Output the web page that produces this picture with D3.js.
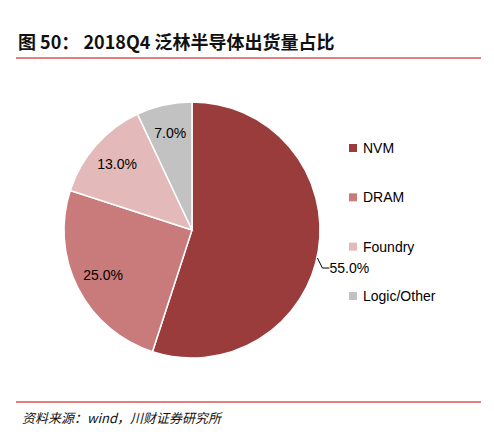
<!DOCTYPE html><html><head><meta charset="utf-8"><script src="https://cdn.jsdelivr.net/npm/d3@7"></script>
<style>body{margin:0;background:#fff}</style></head><body><svg id="c" width="494" height="437"></svg><script>
const categories=["NVM","DRAM","Foundry","Logic/Other"];
const values=[55.0,25.0,13.0,7.0];
const colors=["#9a3c3c","#c97b7b","#e4b9b9","#c2c2c2"];
const svg=d3.select("#c");
svg.append("text").attr("x",18).attr("y",49).attr("font-family","Noto Sans CJK SC").attr("font-weight","bold").attr("font-size",18).attr("fill","#111").text("图 50：  2018Q4 泛林半导体出货量占比");
svg.append("line").attr("x1",16).attr("x2",481).attr("y1",58).attr("y2",58).attr("stroke","#c00000").attr("stroke-width",1);
svg.append("line").attr("x1",16).attr("x2",481).attr("y1",402).attr("y2",402).attr("stroke","#c00000").attr("stroke-width",1);
svg.append("text").attr("x",22).attr("y",423).attr("font-family","Noto Sans CJK SC").attr("font-style","italic").attr("font-size",13).attr("fill","#111").text("资料来源：wind，川财证券研究所");
const cx=192,cy=230,r=128;
const g=svg.append("g").attr("transform",`translate(${cx},${cy})`);
const pie=d3.pie().sort(null).value(d=>d)(values);
const arc=d3.arc().innerRadius(0).outerRadius(r);
g.selectAll("path").data(pie).join("path").attr("d",arc).attr("fill",(d,i)=>colors[i]).attr("stroke","#fff").attr("stroke-width",1.5);
const lab=d3.arc().innerRadius(r*0.78).outerRadius(r*0.78);
pie.forEach((d,i)=>{
  if(i===0){
    const a=(d.startAngle+d.endAngle)/2;
    const p=[Math.sin(a)*r,-Math.cos(a)*r];
    g.append("polyline").attr("points",`${p[0]-1},${p[1]+8} ${p[0]+4},${p[1]+18} ${p[0]+11},${p[1]+18}`).attr("fill","none").attr("stroke","#000");
    g.append("text").attr("x",p[0]+11).attr("y",p[1]+23).attr("font-family","Liberation Sans, Arial").attr("font-size",14).text(values[i].toFixed(1)+"%");
  } else {
    const c=lab.centroid(d);
    g.append("text").attr("x",c[0]).attr("y",c[1]+5).attr("text-anchor","middle").attr("font-family","Liberation Sans, Arial").attr("font-size",14).text(values[i].toFixed(1)+"%");
  }
});
const ly=d3.scalePoint().domain(categories).range([148,296]);
categories.forEach((c,i)=>{
  svg.append("rect").attr("x",349).attr("y",ly(c)-4).attr("width",8).attr("height",8).attr("fill",colors[i]);
  svg.append("text").attr("x",363).attr("y",ly(c)+5).attr("font-family","Liberation Sans, Arial").attr("font-size",14).text(c);
});
</script></body></html>
